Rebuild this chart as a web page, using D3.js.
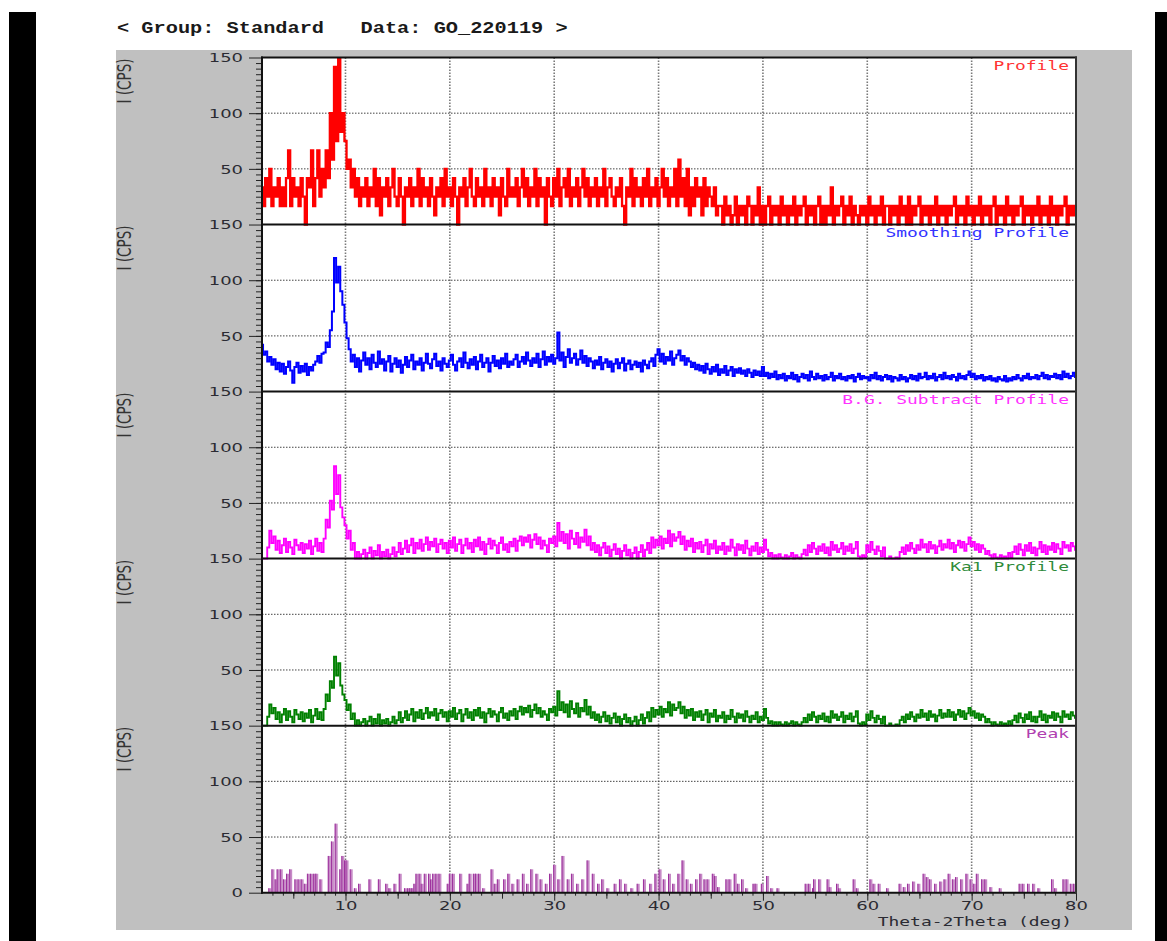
<!DOCTYPE html>
<meta charset="utf-8">
<title>GO_220119 profiles</title>
<style>
body { margin: 0; background: #fff; }
svg { display: block; }
.axis path { display: none; }
.axis line { stroke: #222; }
.axis text { font: 13px "DejaVu Sans", sans-serif; fill: #2b2b33; }
</style>
<svg width="1167" height="941"></svg>
<script src="https://d3js.org/d3.v7.min.js"></script>
<script>

// 2theta grid of the profiles: 2.0 .. 80.0 deg, one value every 0.2 deg
var thetaStart = 2, thetaEnd = 80, thetaStep = 0.2;

// raw profile, in detector counts (1 count = 25/3 CPS)
var cpsPerCount = 25 / 3;
var profileCounts = [
  4,2,5,3,6,2,4,3,5,2, 4,2,5,8,2,5,3,4,2,5, 3,0,5,4,8,2,5,8,3,6, 4,8,5,12,7,17,9,18,10,12,
  9,6,7,4,6,3,5,2,4,3, 5,2,4,3,6,2,5,1,4,3, 5,2,4,6,3,2,5,3,0,4, 3,5,2,4,3,6,2,5,3,4,
  2,5,3,1,4,3,5,2,6,3, 4,2,5,3,0,4,3,5,2,4, 6,3,2,5,3,4,2,6,3,4, 2,5,3,4,1,5,3,2,6,3,
  4,3,5,2,4,6,3,5,2,4, 3,6,2,5,3,4,0,5,3,2, 5,3,6,2,4,5,3,6,2,4, 3,5,2,4,6,3,5,2,4,3,
  5,2,4,3,6,2,4,5,3,2, 4,3,5,2,0,4,3,6,2,5, 3,4,2,5,3,6,2,4,3,5, 2,4,6,3,5,2,4,3,6,2,
  7,3,5,2,6,1,4,2,5,3, 4,1,5,2,4,3,2,4,1,2, 2,0,3,1,2,0,1,3,0,2, 1,2,0,3,2,0,2,1,4,0,
  2,0,2,3,0,2,1,2,0,3, 1,2,0,2,1,3,0,2,1,2, 3,0,2,1,2,0,2,3,0,2, 0,2,1,4,0,2,1,2,3,0,
  2,1,3,0,2,1,0,2,1,2, 0,3,1,2,0,2,1,3,0,2, 2,0,2,1,2,0,3,1,2,0, 3,0,2,1,2,3,0,2,1,2,
  0,2,1,3,0,2,1,2,0,2, 1,2,3,0,2,1,2,0,3,1, 2,0,2,1,3,0,2,1,2,0, 2,3,0,2,1,2,0,3,1,2,
  0,2,1,2,3,0,2,1,2,0, 2,1,3,0,2,1,2,0,3,1, 2,0,2,1,2,3,0,2,1,2, 1
];

// smoothed profile, CPS
var smoothingCps = [
  42,33,36,27,31,24,29,20,26,18, 25,16,22,27,19,8,22,26,17,23, 18,25,15,22,19,24,27,32,26,34, 35,44,40,55,72,120,98,112,90,78,
  62,48,38,27,33,22,30,18,28,35, 24,30,20,33,26,22,36,25,29,19, 27,32,18,25,30,22,28,17,24,31, 22,28,33,20,27,24,30,19,26,34,
  25,21,29,34,23,27,19,30,25,22, 28,33,24,19,27,30,22,35,26,21, 29,24,31,20,27,33,22,26,30,18, 26,32,23,28,21,30,25,34,22,27,
  24,29,33,22,27,31,25,35,28,23, 30,26,34,22,29,36,24,31,27,33, 25,30,53,28,35,22,31,38,26,30, 34,24,29,37,26,32,23,30,27,21,
  28,24,31,20,26,29,22,27,18,25, 29,21,26,30,19,25,28,20,24,27, 22,26,18,28,24,21,27,30,23,33, 38,27,34,25,31,28,36,24,30,33,
  37,28,32,24,30,27,22,26,20,24, 19,23,17,25,20,16,22,18,24,15, 20,17,23,15,19,22,14,20,17,21, 16,19,14,20,17,13,19,15,18,14,
  22,14,17,12,16,13,18,11,15,12, 16,10,14,12,17,11,15,9,13,16, 12,15,10,18,13,11,16,12,14,10, 15,11,13,17,10,14,12,16,11,13,
  10,14,12,15,9,13,16,11,14,12, 13,10,15,12,17,11,14,10,13,15, 11,14,9,13,12,10,15,11,13,9, 12,15,11,14,10,16,12,13,17,11,
  14,12,16,10,13,15,11,17,12,14, 11,15,13,10,16,12,14,11,15,18, 13,16,11,14,12,15,10,13,11,14, 10,12,9,13,11,10,14,9,12,10,
  13,11,15,12,10,14,12,16,11,13, 12,15,11,14,17,12,15,11,14,13, 16,12,15,11,18,13,16,12,14,17, 13
];

// background subtracted profile, CPS
var bgSubtractCps = [
  0,0,0,10,25,14,20,8,16,5, 12,18,6,15,10,4,17,12,8,14, 5,13,9,16,4,11,18,7,14,6, 18,35,28,52,44,83,58,75,46,37,
  30,18,25,8,14,0,6,0,4,8, 0,5,10,0,7,3,12,0,6,2, 8,0,4,10,2,6,14,4,9,16, 6,12,18,5,14,9,17,7,13,19,
  8,15,11,18,6,13,17,9,14,5, 16,10,19,7,13,17,5,12,18,9, 14,6,17,11,19,8,15,4,13,18, 9,16,12,5,14,19,8,13,6,15,
  11,18,7,16,20,12,19,15,21,10, 17,22,13,19,9,16,12,6,18,14, 20,11,32,16,24,14,22,9,25,18, 13,23,10,19,15,26,12,20,8,14,
  6,12,3,10,14,5,11,2,8,13, 4,9,0,7,12,3,8,0,5,10, 0,6,12,2,8,14,5,19,10,17, 12,20,9,18,14,25,11,22,16,19,
  24,13,20,8,16,11,18,6,14,9, 15,6,12,17,4,13,9,16,5,11, 8,14,4,11,7,17,10,3,13,8, 12,5,16,9,3,11,7,14,4,10,
  6,17,8,2,5,0,3,0,4,1, 0,3,0,2,5,0,3,1,0,4, 8,3,12,6,14,9,4,11,7,13, 5,10,3,15,8,12,6,9,14,4,
  11,7,13,5,9,15,2,0,3,1, 12,6,15,8,4,11,7,2,10,0, 0,2,0,0,1,0,6,10,4,12, 7,14,9,5,12,8,17,10,13,6,
  15,9,12,5,11,16,8,13,10,17, 9,14,6,12,16,10,15,7,13,19, 11,15,8,13,6,12,9,4,7,3, 0,4,1,0,3,0,2,0,5,1,
  6,11,4,13,8,3,12,7,14,5, 10,3,9,15,6,12,4,11,8,14, 6,13,9,4,15,10,12,7,14,11, 8
];

// K-alpha1 profile, CPS
var ka1Cps = [
  0,0,0,8,19,11,16,6,12,3, 10,15,5,13,8,3,14,10,6,12, 4,11,7,14,3,9,15,6,12,5, 15,28,22,40,34,62,45,56,36,28,
  23,14,19,6,11,0,5,0,3,6, 0,4,8,0,6,2,10,0,5,2, 6,0,3,8,2,5,12,3,7,13, 5,10,15,4,12,7,14,6,11,16,
  7,12,9,15,5,11,14,8,12,4, 13,8,16,6,11,14,4,10,15,7, 12,5,14,9,16,7,12,3,11,15, 8,13,10,4,12,16,7,11,5,13,
  9,15,6,13,17,10,16,12,18,8, 14,19,11,16,8,13,10,5,15,12, 17,9,31,14,21,12,19,8,22,15, 11,20,8,16,13,23,10,17,7,12,
  5,10,3,8,12,4,9,2,7,11, 3,8,0,6,10,3,7,0,4,8, 0,5,10,2,7,12,4,16,8,14, 10,17,8,15,12,21,9,19,14,16,
  21,11,17,7,14,9,15,5,12,8, 13,5,10,14,3,11,8,14,4,9, 7,12,3,9,6,14,8,3,11,7, 10,4,13,8,3,9,6,12,3,8,
  5,15,7,2,4,0,3,0,3,1, 0,3,0,2,4,0,3,1,0,3, 7,3,10,5,12,8,3,9,6,11, 4,8,3,13,7,10,5,8,12,3,
  9,6,11,4,8,13,2,0,3,1, 10,5,13,7,3,9,6,2,8,0, 0,2,0,0,1,0,5,8,3,10, 6,12,8,4,10,7,14,8,11,5,
  13,8,10,4,9,14,7,11,8,14, 8,12,5,10,14,8,13,6,11,16, 9,13,7,11,5,10,8,3,6,3, 0,3,1,0,3,0,2,0,4,1,
  5,9,3,11,7,3,10,6,12,4, 8,3,8,13,5,10,3,9,7,12, 5,11,8,3,13,8,10,6,12,9, 7
];

// peak list: [2theta (deg), intensity (CPS)]
var peaks = [
  [2.7,4],[3.0,21],[3.3,12],[3.5,21],[3.8,21],[4.1,12],[4.4,17],[4.7,21],[5.2,12],[5.5,12],
  [5.8,12],[6.1,8],[6.4,17],[6.7,17],[7.0,17],[7.2,17],[7.6,12],[8.4,33],[8.7,46],[9.06,62],
  [9.5,21],[9.7,33],[9.95,29],[10.1,29],[10.5,21],[10.9,4],[11.3,8],[12.3,12],[13.2,12],[13.9,8],
  [14.2,4],[14.7,8],[15.2,17],[15.7,4],[16.0,4],[16.2,4],[16.4,4],[16.6,8],[16.8,17],[17.1,17],
  [17.3,8],[17.6,17],[18.0,17],[18.2,12],[18.4,17],[18.7,17],[19.0,17],[19.8,8],[20.0,17],[20.3,17],
  [21.0,17],[21.7,8],[21.9,17],[22.3,17],[22.5,17],[22.8,17],[23.2,4],[24.0,21],[24.3,8],[24.6,12],
  [25.2,12],[25.6,17],[26.0,8],[26.5,12],[27.0,17],[27.4,8],[27.8,21],[28.3,17],[28.7,12],[29.2,8],
  [29.6,17],[30.0,25],[30.4,12],[30.8,33],[31.3,12],[31.7,17],[32.2,8],[32.7,12],[33.2,29],[33.7,17],
  [34.2,8],[34.6,12],[35.1,4],[35.8,8],[36.3,12],[36.8,8],[37.4,4],[38.0,8],[38.6,12],[39.2,8],
  [39.7,17],[40.1,21],[40.5,12],[41.0,17],[41.4,8],[41.9,17],[42.3,29],[42.7,12],[43.1,8],[43.6,12],
  [44.0,17],[44.4,12],[44.7,12],[45.2,17],[45.4,15],[45.7,5],[46.5,12],[46.8,12],[47.3,17],[47.6,8],
  [48.0,12],[48.4,4],[49.1,8],[49.3,8],[49.9,8],[50.4,15],[50.8,4],[51.4,4],[54.1,8],[54.4,8],
  [54.8,4],[54.9,12],[55.4,12],[56.2,12],[56.4,5],[57.1,8],[57.3,4],[58.7,12],[59.0,4],[60.3,12],
  [60.6,8],[61.1,8],[61.9,4],[63.1,8],[63.5,5],[63.9,8],[64.4,10],[64.9,8],[65.4,17],[65.7,14],
  [66.0,12],[66.5,8],[67.0,10],[67.4,12],[67.8,17],[68.2,12],[68.5,14],[69.0,12],[69.5,17],[69.9,12],
  [70.2,8],[70.5,17],[71.0,12],[71.3,12],[71.8,5],[72.7,4],[74.6,8],[74.9,8],[75.4,8],[75.9,8],
  [76.4,4],[77.7,12],[78.0,4],[78.8,12],[79.1,12],[79.5,8],[79.8,8]
];

var panelNames = ["Profile", "Smoothing Profile", "B.G. Subtract Profile", "Ka1 Profile", "Peak"];
var panelColors = ["#ff0000", "#0000ff", "#ff00ff", "#008000", "#9c2f9c"];
var labelColors = ["#ff3333", "#3333ff", "#ff33ff", "#2e8b3a", "#b040b0"];
var lineWidths = [2.3, 2, 1.9, 1.9];
var xTickValues = [10, 20, 30, 40, 50, 60, 70, 80];
var gridTheta = [10, 20, 30, 40, 50, 60, 70];
var gridCps = [50, 100];

var svg = d3.select("svg"),
    width = +svg.attr("width"),
    height = +svg.attr("height");

// the source screenshot is stretched sideways, letters included
var stretch = 1.38;

// note: "top" is taken by window.top, so plotTop etc.
var plotLeft = 262, plotRight = 1076, plotTop = 57.5, plotBottom = 892.7;
var panelH = (plotBottom - plotTop) / 5;

var x = d3.scaleLinear().domain([thetaStart, thetaEnd]).range([plotLeft, plotRight]);

// window frame
svg.append("rect").attr("x", 9).attr("y", 12).attr("width", 27).attr("height", height - 12).attr("fill", "#000");
svg.append("rect").attr("x", 1155).attr("y", 12).attr("width", 12).attr("height", height - 12).attr("fill", "#000");
svg.append("rect").attr("x", 116).attr("y", 50).attr("width", 1016).attr("height", 880).attr("fill", "#c0c0c0");
svg.append("rect").attr("x", plotLeft).attr("y", plotTop).attr("width", plotRight - plotLeft).attr("height", plotBottom - plotTop).attr("fill", "#fff");

svg.append("text")
    .attr("transform", "translate(117,33) scale(1.27,1)")
    .style("font", "bold 16px 'Liberation Mono', monospace")
    .attr("fill", "#1a1a1a")
    .text("< Group: Standard\u00a0\u00a0\u00a0Data: GO_220119 >");

svg.append("clipPath").attr("id", "plot")
  .append("rect").attr("x", plotLeft).attr("y", plotTop).attr("width", plotRight - plotLeft).attr("height", plotBottom - plotTop);

// vertical grid through all panels
svg.append("g").selectAll("line")
  .data(gridTheta)
  .enter().append("line")
    .attr("x1", function(d) { return x(d); })
    .attr("x2", function(d) { return x(d); })
    .attr("y1", plotTop)
    .attr("y2", plotBottom)
    .attr("stroke", "#7a7a7a")
    .attr("stroke-width", 1.6)
    .attr("stroke-dasharray", "1.5,1.5");

var series = [
  profileCounts.map(function(c) { return c * cpsPerCount; }),
  smoothingCps,
  bgSubtractCps,
  ka1Cps
];

function stretchText(sel) {
  sel.each(function() {
    var t = d3.select(this);
    var tx = +t.attr("x") || 0;
    t.attr("x", tx / stretch).attr("transform", "scale(" + stretch + ",1)");
  });
}

panelNames.forEach(function(name, p) {
  var y0 = plotTop + p * panelH, y1 = y0 + panelH;
  var y = d3.scaleLinear().domain([0, 150]).range([y1, y0]);
  var g = svg.append("g");

  g.selectAll(".hgrid")
    .data(gridCps)
    .enter().append("line")
      .attr("x1", plotLeft)
      .attr("x2", plotRight)
      .attr("y1", function(d) { return y(d); })
      .attr("y2", function(d) { return y(d); })
      .attr("stroke", "#444")
      .attr("stroke-dasharray", "1.5,1.5");

  if (p < 4) {
    var line = d3.line()
        .x(function(d, i) { return x(thetaStart + i * thetaStep); })
        .y(function(d) { return y(d); })
        .curve(d3.curveStep);
    g.append("path")
        .datum(series[p])
        .attr("clip-path", "url(#plot)")
        .attr("fill", "none")
        .attr("stroke", panelColors[p])
        .attr("stroke-width", lineWidths[p])
        .attr("stroke-linejoin", "miter")
        .attr("d", line);
  } else {
    var bars = g.append("g").selectAll("g")
      .data(peaks)
      .enter().append("g");
    bars.append("rect")
        .attr("x", function(d) { return x(d[0]) - 1; })
        .attr("y", function(d) { return y(d[1]); })
        .attr("width", 3)
        .attr("height", function(d) { return y(0) - y(d[1]); })
        .attr("fill", "#c68ac6");
    bars.append("line")
        .attr("x1", function(d) { return x(d[0]) - 0.5; })
        .attr("x2", function(d) { return x(d[0]) - 0.5; })
        .attr("y1", function(d) { return y(d[1]); })
        .attr("y2", y(0))
        .attr("stroke", panelColors[p]);
  }

  // y ticks, outside the frame
  g.append("g")
      .attr("class", "axis")
      .attr("transform", "translate(" + plotLeft + ",0)")
      .call(d3.axisLeft(y).tickValues(d3.range(5, 150, 5)).tickSize(6).tickFormat(""));
  g.append("g")
      .attr("class", "axis")
      .attr("transform", "translate(" + plotLeft + ",0)")
      .call(d3.axisLeft(y).tickValues(p == 4 ? [0, 50, 100, 150] : [50, 100, 150]).tickSize(13).tickPadding(6))
    .selectAll("text").call(stretchText);

  svg.append("text")
      .attr("transform", "translate(131," + (y0 + 1) + ") scale(" + stretch + ",1) rotate(-90)")
      .attr("text-anchor", "end")
      .style("font", "13.5px 'DejaVu Sans', sans-serif")
      .attr("fill", "#333")
      .text("I (CPS)");

  svg.append("text")
      .attr("transform", "translate(1069," + (y0 + 12.5) + ") scale(" + stretch + ",1)")
      .attr("text-anchor", "end")
      .style("font", "13px 'DejaVu Sans Mono', monospace")
      .attr("fill", labelColors[p])
      .text(name);

  svg.append("line")
      .attr("x1", plotLeft - 1).attr("x2", plotRight + 1)
      .attr("y1", y0).attr("y2", y0)
      .attr("stroke", "#111").attr("stroke-width", 2);
});

// x axis
var xAxisG = svg.append("g").attr("transform", "translate(0," + plotBottom + ")");
xAxisG.append("g").attr("class", "axis")
    .call(d3.axisBottom(x).tickValues(d3.range(3, 80, 1)).tickSize(3).tickFormat(""));
xAxisG.append("g").attr("class", "axis")
    .call(d3.axisBottom(x).tickValues(d3.range(5, 80, 10)).tickSize(6).tickFormat(""));
xAxisG.append("g").attr("class", "axis")
    .call(d3.axisBottom(x).tickValues(xTickValues).tickSize(8).tickPadding(0))
  .selectAll("text").call(stretchText);

svg.append("text")
    .attr("transform", "translate(1072,926) scale(" + stretch + ",1)")
    .attr("text-anchor", "end")
    .style("font", "13px 'DejaVu Sans Mono', monospace")
    .attr("fill", "#2b2b33")
    .text("Theta-2Theta (deg)");

// frame lines
svg.append("line").attr("x1", plotLeft - 1).attr("x2", plotRight + 1).attr("y1", plotBottom).attr("y2", plotBottom)
    .attr("stroke", "#111").attr("stroke-width", 2);
svg.append("line").attr("x1", plotLeft).attr("x2", plotLeft).attr("y1", plotTop - 1).attr("y2", plotBottom + 1)
    .attr("stroke", "#111").attr("stroke-width", 2);
svg.append("line").attr("x1", plotRight).attr("x2", plotRight).attr("y1", plotTop - 1).attr("y2", plotBottom + 1)
    .attr("stroke", "#333").attr("stroke-width", 2);

</script>
